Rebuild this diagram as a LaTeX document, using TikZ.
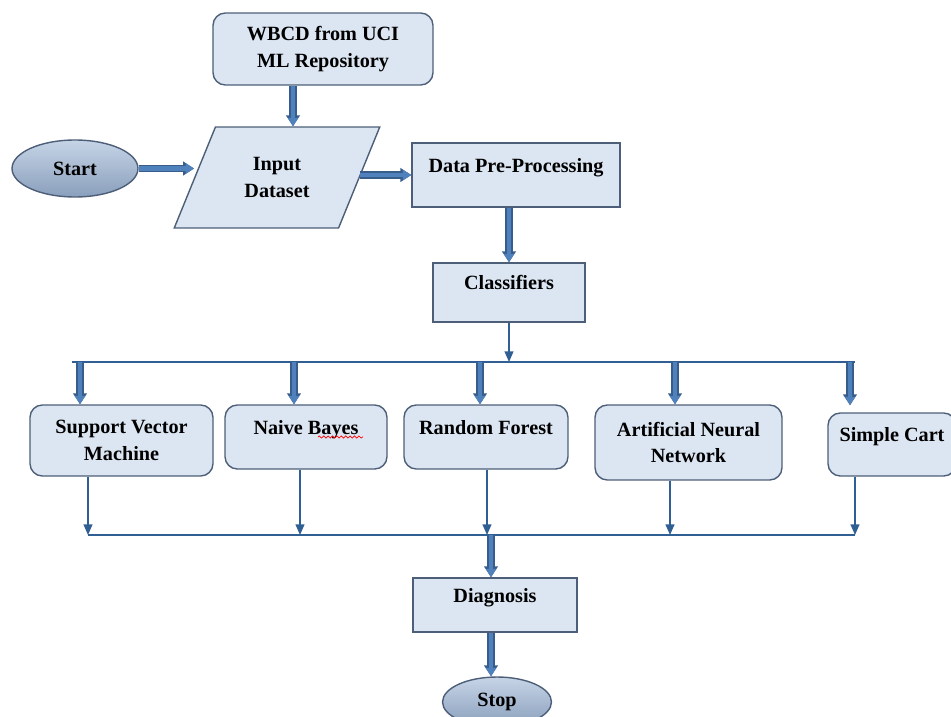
\documentclass[tikz,border=0pt]{standalone}
\usepackage{fontspec}
\setmainfont{Liberation Serif}
\usetikzlibrary{shapes.geometric,arrows.meta,decorations.pathmorphing}
\definecolor{boxfill}{HTML}{DCE6F2}
\definecolor{boxline}{HTML}{4D5F78}
\definecolor{arrfill}{HTML}{4F81BD}
\definecolor{arrline}{HTML}{385D8A}
\definecolor{ovaltop}{HTML}{C6D4E6}
\definecolor{ovalbot}{HTML}{8A9FBC}
\definecolor{linkblue}{HTML}{2F5F93}

\begin{document}
\begin{tikzpicture}[x=0.02cm, y=-0.02cm]
  \tikzstyle{box}=[rectangle, draw=boxline, line width=0.8pt, fill=boxfill, align=center, inner sep=2pt, font=\fontsize{11.5}{15.3}\selectfont\bfseries]
  \tikzstyle{rbox}=[box, rounded corners=7pt]
  \tikzstyle{toptext}=[text height=8pt, text depth=11pt]
  \tikzstyle{io}=[box, trapezium, trapezium left angle=63, trapezium right angle=117, trapezium stretches=true]
  \tikzstyle{oval}=[ellipse, draw=boxline, line width=0.8pt, top color=ovaltop, bottom color=ovalbot, font=\fontsize{11.5}{15.3}\selectfont\bfseries]
  \tikzstyle{fat}=[draw=arrfill, line width=2.6pt, -{Triangle[width=5.6pt,length=4.8pt]}, preaction={draw=arrline, line width=4pt, -{Triangle[width=7.6pt,length=6.2pt]}}]
  \tikzstyle{link}=[draw=linkblue, line width=0.8pt, -{Triangle[width=5pt,length=6pt]}]
  \tikzstyle{bus}=[draw=linkblue, line width=1pt]

  \useasboundingbox (0,0) rectangle (951,717);

  \node[rbox, minimum width=4.4cm,  minimum height=1.44cm]          (wbcd)  at (323,  49)    {WBCD from UCI\\ML Repository};
  \node[oval, minimum width=2.52cm, minimum height=1.14cm]          (start) at (75,   168.5) {Start};
  \node[io,   minimum width=4.14cm, minimum height=2.02cm]          (inp)   at (277,  177.5) {Input\\Dataset};
  \node[box,  toptext, minimum width=4.16cm, minimum height=1.28cm] (dpp)   at (516,  175)   {Data Pre-Processing};
  \node[box,  toptext, minimum width=3.04cm, minimum height=1.18cm] (cls)   at (509,  292.5) {Classifiers};

  \node[rbox, minimum width=3.66cm, minimum height=1.42cm]          (svm)   at (121.5, 440.5) {Support Vector\\Machine};
  \node[rbox, toptext, minimum width=3.24cm, minimum height=1.28cm] (nb)    at (306,   437)   {Naive Bayes};
  \node[rbox, toptext, minimum width=3.28cm, minimum height=1.28cm] (rf)    at (486,   437)   {Random Forest};
  \node[rbox, minimum width=3.74cm, minimum height=1.5cm]           (ann)   at (688.5, 442.5) {Artificial Neural\\Network};
  \node[rbox, toptext, minimum width=2.56cm, minimum height=1.26cm] (sc)    at (892,   444.5) {Simple Cart};

  \node[box,  toptext, minimum width=3.28cm, minimum height=1.08cm] (diag)  at (495,  605)   {Diagnosis};
  \node[oval, minimum width=2.18cm, minimum height=1.0cm]           (stop)  at (497,  702)   {Stop};

  \coordinate (t1) at (80,  362);
  \coordinate (t2) at (294, 362);
  \coordinate (t3) at (480, 362);
  \coordinate (t4) at (675, 362);
  \coordinate (t5) at (850, 362);
  \coordinate (busL) at (72,  362);
  \coordinate (busR) at (855, 362);

  \coordinate (b1) at (88,  535);
  \coordinate (b2) at (300, 535);
  \coordinate (b3) at (487, 535);
  \coordinate (b4) at (670, 535);
  \coordinate (b5) at (855, 535);
  \coordinate (b6) at (491, 535);

  \draw[fat] ([xshift=-0.6cm]wbcd.south) -- ([xshift=-0.6cm]wbcd.south |- inp.north);
  \draw[fat] (start.east) -- (start.east -| inp.west);
  \draw[fat] (dpp.west -| inp.east) -- (dpp.west);
  \draw[fat] (cls.north |- dpp.south) -- (cls.north);

  \draw[link] (cls.south) -- (cls.south |- busL);
  \draw[bus] (busL) -- (busR);
  \draw[fat] (t1) -- (t1 |- svm.north);
  \draw[fat] (t2) -- (t2 |- nb.north);
  \draw[fat] (t3) -- (t3 |- rf.north);
  \draw[fat] (t4) -- (t4 |- ann.north);
  \draw[fat, shorten >=4pt] (t5) -- (t5 |- sc.north);

  \draw[link] (b1 |- svm.south) -- (b1);
  \draw[link] (b2 |- nb.south)  -- (b2);
  \draw[link] (b3 |- rf.south)  -- (b3);
  \draw[link] (b4 |- ann.south) -- (b4);
  \draw[link] (b5 |- sc.south)  -- (b5);
  \draw[bus] (b1) -- (b5);

  \draw[fat] (b6) -- (b6 |- diag.north);
  \draw[fat] (b6 |- diag.south) -- (b6 |- stop.north);

  \draw[red, line width=0.4pt, decorate, decoration={snake, amplitude=0.6pt, segment length=2.5pt}] (318,437) -- (363,437);
\end{tikzpicture}
\end{document}
